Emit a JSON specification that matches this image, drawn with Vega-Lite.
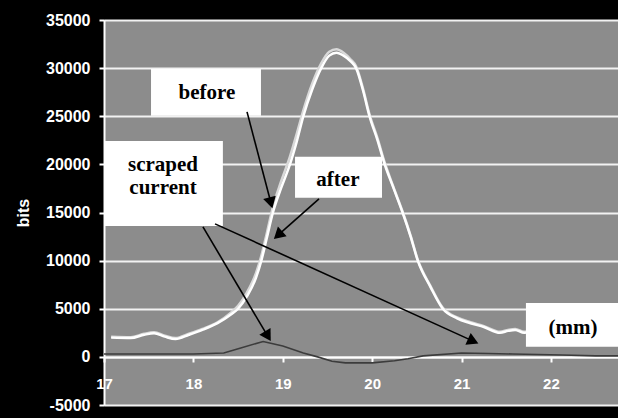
{
  "$schema": "https://vega.github.io/schema/vega-lite/v6.json",
  "width": 514,
  "height": 385,
  "autosize": "none",
  "padding": {"left": 104, "top": 20, "right": 0, "bottom": 13},
  "background": "#000000",
  "config": {
    "view": {"fill": "#8c8c8c", "stroke": "#cfcfcf", "strokeWidth": 1},
    "axis": {"labelFont": "Liberation Sans", "labelFontWeight": "bold", "labelColor": "#ffffff", "titleColor": "#ffffff", "titleFont": "Liberation Sans", "titleFontWeight": "bold"}
  },
  "datasets": {
    "curves": [
      {"series": "before", "x": 17.08, "y": 2100}, {"series": "before", "x": 17.3, "y": 2050}, {"series": "before", "x": 17.45, "y": 2400}, {"series": "before", "x": 17.56, "y": 2550}, {"series": "before", "x": 17.68, "y": 2200}, {"series": "before", "x": 17.8, "y": 1950}, {"series": "before", "x": 17.95, "y": 2400}, {"series": "before", "x": 18.1, "y": 2900}, {"series": "before", "x": 18.27, "y": 3600}, {"series": "before", "x": 18.42, "y": 4600}, {"series": "before", "x": 18.5, "y": 5300}, {"series": "before", "x": 18.6, "y": 6700}, {"series": "before", "x": 18.7, "y": 8700}, {"series": "before", "x": 18.76, "y": 10500}, {"series": "before", "x": 18.82, "y": 12800}, {"series": "before", "x": 18.89, "y": 15600}, {"series": "before", "x": 18.98, "y": 18200}, {"series": "before", "x": 19.08, "y": 20800}, {"series": "before", "x": 19.16, "y": 23300}, {"series": "before", "x": 19.23, "y": 25600}, {"series": "before", "x": 19.33, "y": 28400}, {"series": "before", "x": 19.43, "y": 30500}, {"series": "before", "x": 19.52, "y": 31700}, {"series": "before", "x": 19.6, "y": 31950}, {"series": "before", "x": 19.68, "y": 31600}, {"series": "before", "x": 19.76, "y": 30900}, {"series": "before", "x": 19.82, "y": 30200}, {"series": "before", "x": 19.9, "y": 27800}, {"series": "before", "x": 19.97, "y": 25200}, {"series": "before", "x": 20.06, "y": 22700}, {"series": "before", "x": 20.14, "y": 20200}, {"series": "before", "x": 20.24, "y": 17600}, {"series": "before", "x": 20.34, "y": 15100}, {"series": "before", "x": 20.43, "y": 12600}, {"series": "before", "x": 20.51, "y": 10100}, {"series": "before", "x": 20.65, "y": 7400}, {"series": "before", "x": 20.79, "y": 5100}, {"series": "before", "x": 20.95, "y": 4100}, {"series": "before", "x": 21.1, "y": 3600}, {"series": "before", "x": 21.25, "y": 3200}, {"series": "before", "x": 21.43, "y": 2600}, {"series": "before", "x": 21.52, "y": 2800}, {"series": "before", "x": 21.6, "y": 2900}, {"series": "before", "x": 21.7, "y": 2600}, {"series": "before", "x": 21.9, "y": 2700}, {"series": "before", "x": 22.2, "y": 2600}, {"series": "before", "x": 22.5, "y": 2700}, {"series": "before", "x": 22.75, "y": 2600},
      {"series": "after", "x": 17.08, "y": 2000}, {"series": "after", "x": 17.3, "y": 1950}, {"series": "after", "x": 17.45, "y": 2300}, {"series": "after", "x": 17.56, "y": 2450}, {"series": "after", "x": 17.68, "y": 2100}, {"series": "after", "x": 17.8, "y": 1850}, {"series": "after", "x": 17.95, "y": 2300}, {"series": "after", "x": 18.1, "y": 2800}, {"series": "after", "x": 18.27, "y": 3500}, {"series": "after", "x": 18.42, "y": 4400}, {"series": "after", "x": 18.5, "y": 5000}, {"series": "after", "x": 18.6, "y": 6300}, {"series": "after", "x": 18.7, "y": 8200}, {"series": "after", "x": 18.76, "y": 10000}, {"series": "after", "x": 18.82, "y": 12300}, {"series": "after", "x": 18.89, "y": 15000}, {"series": "after", "x": 18.98, "y": 17500}, {"series": "after", "x": 19.08, "y": 20000}, {"series": "after", "x": 19.16, "y": 22500}, {"series": "after", "x": 19.23, "y": 25000}, {"series": "after", "x": 19.33, "y": 27800}, {"series": "after", "x": 19.43, "y": 30000}, {"series": "after", "x": 19.52, "y": 31300}, {"series": "after", "x": 19.6, "y": 31600}, {"series": "after", "x": 19.68, "y": 31300}, {"series": "after", "x": 19.76, "y": 30700}, {"series": "after", "x": 19.82, "y": 30000}, {"series": "after", "x": 19.9, "y": 27600}, {"series": "after", "x": 19.97, "y": 25000}, {"series": "after", "x": 20.06, "y": 22500}, {"series": "after", "x": 20.14, "y": 20000}, {"series": "after", "x": 20.24, "y": 17500}, {"series": "after", "x": 20.34, "y": 15000}, {"series": "after", "x": 20.43, "y": 12500}, {"series": "after", "x": 20.51, "y": 10000}, {"series": "after", "x": 20.65, "y": 7300}, {"series": "after", "x": 20.79, "y": 5000}, {"series": "after", "x": 20.95, "y": 4000}, {"series": "after", "x": 21.1, "y": 3500}, {"series": "after", "x": 21.25, "y": 3100}, {"series": "after", "x": 21.43, "y": 2500}, {"series": "after", "x": 21.52, "y": 2700}, {"series": "after", "x": 21.6, "y": 2800}, {"series": "after", "x": 21.7, "y": 2500}, {"series": "after", "x": 21.9, "y": 2600}, {"series": "after", "x": 22.2, "y": 2500}, {"series": "after", "x": 22.5, "y": 2600}, {"series": "after", "x": 22.75, "y": 2500}
    ],
    "scraped": [
      {"x": 17.0, "y": 300}, {"x": 17.5, "y": 300}, {"x": 18.0, "y": 300}, {"x": 18.34, "y": 400}, {"x": 18.53, "y": 930}, {"x": 18.78, "y": 1600}, {"x": 19.0, "y": 1140}, {"x": 19.23, "y": 410}, {"x": 19.39, "y": 0}, {"x": 19.55, "y": -450}, {"x": 19.7, "y": -620}, {"x": 20.0, "y": -620}, {"x": 20.25, "y": -400}, {"x": 20.4, "y": -200}, {"x": 20.57, "y": 100}, {"x": 21.0, "y": 400}, {"x": 21.3, "y": 350}, {"x": 21.57, "y": 300}, {"x": 22.13, "y": 200}, {"x": 22.5, "y": 100}, {"x": 22.75, "y": 100}
    ],
    "boxes": [
      {"label": "before", "x": 17.526, "x2": 18.756, "y": 25040, "y2": 29920},
      {"label": "scraped current", "x": 17.0, "x2": 18.33, "y": 13610, "y2": 22440},
      {"label": "after", "x": 19.137, "x2": 20.11, "y": 16520, "y2": 20780},
      {"label": "(mm)", "x": 21.72, "x2": 22.75, "y": 1040, "y2": 5610}
    ],
    "labels": [
      {"text": "before", "x": 18.152, "y": 27430},
      {"text": "scraped", "x": 17.66, "y": 19950},
      {"text": "current", "x": 17.66, "y": 17560},
      {"text": "after", "x": 19.617, "y": 18390},
      {"text": "(mm)", "x": 22.246, "y": 3013}
    ],
    "arrows": [
      {"x": 18.6, "y": 25456, "x2": 18.862, "y2": 16191},
      {"x": 19.405, "y": 16416, "x2": 18.963, "y2": 12780},
      {"x": 18.107, "y": 13507, "x2": 18.822, "y2": 2307},
      {"x": 18.242, "y": 13819, "x2": 21.111, "y2": 1714}
    ],
    "heads": [
      {"x": 18.862, "y": 16191, "angle": 165},
      {"x": 18.963, "y": 12780, "angle": 228},
      {"x": 18.822, "y": 2307, "angle": 149},
      {"x": 21.111, "y": 1714, "angle": 114}
    ]
  },
  "encoding": {
    "x": {"field": "x", "type": "quantitative", "scale": {"domain": [17, 22.75], "nice": false, "zero": false},
      "axis": {"title": null, "offset": -48, "values": [17, 18, 19, 20, 21, 22], "grid": false, "domainColor": "#ffffff", "domainWidth": 2, "tickColor": "#ffffff", "tickWidth": 2, "tickSize": 5, "labelFontSize": 15, "labelPadding": 14, "labelFlush": false}},
    "y": {"field": "y", "type": "quantitative", "scale": {"domain": [-5000, 35000], "nice": false, "zero": false},
      "axis": {"title": "bits", "values": [-5000, 0, 5000, 10000, 15000, 20000, 25000, 30000, 35000], "grid": true, "gridColor": "#f2f2f2", "gridWidth": 2, "domainColor": "#ffffff", "domainWidth": 2, "tickColor": "#ffffff", "tickWidth": 2, "tickSize": 5, "labelFontSize": 16, "labelPadding": 9, "titleFontSize": 16, "titlePadding": 14,
        "labelExpr": "datum.value < 0 ? '-' + format(-datum.value, 'd') : format(datum.value, 'd')"}}
  },
  "layer": [
    {"data": {"name": "curves"}, "mark": {"type": "line", "strokeWidth": 2.5, "interpolate": "monotone"},
      "encoding": {"detail": {"field": "series"}, "color": {"field": "series", "type": "nominal", "scale": {"domain": ["before", "after"], "range": ["#d9d9d9", "#ffffff"]}, "legend": null}}},
    {"data": {"name": "scraped"}, "mark": {"type": "line", "strokeWidth": 1.6, "color": "#3c3c3c"}, "encoding": {}},
    {"data": {"name": "boxes"}, "mark": {"type": "rect", "color": "#ffffff"},
      "encoding": {"x2": {"field": "x2"}, "y2": {"field": "y2"}}},
    {"data": {"name": "labels"}, "mark": {"type": "text", "font": "Liberation Serif", "fontWeight": "bold", "fontSize": 21, "color": "#000000", "baseline": "middle", "align": "center"},
      "encoding": {"text": {"field": "text"}}},
    {"data": {"name": "arrows"}, "mark": {"type": "rule", "color": "#000000", "strokeWidth": 1.6},
      "encoding": {"x2": {"field": "x2"}, "y2": {"field": "y2"}}},
    {"data": {"name": "heads"}, "mark": {"type": "point", "shape": "triangle", "filled": true, "color": "#000000", "size": 170, "opacity": 1},
      "encoding": {"angle": {"field": "angle", "type": "quantitative", "scale": null}}}
  ]
}
